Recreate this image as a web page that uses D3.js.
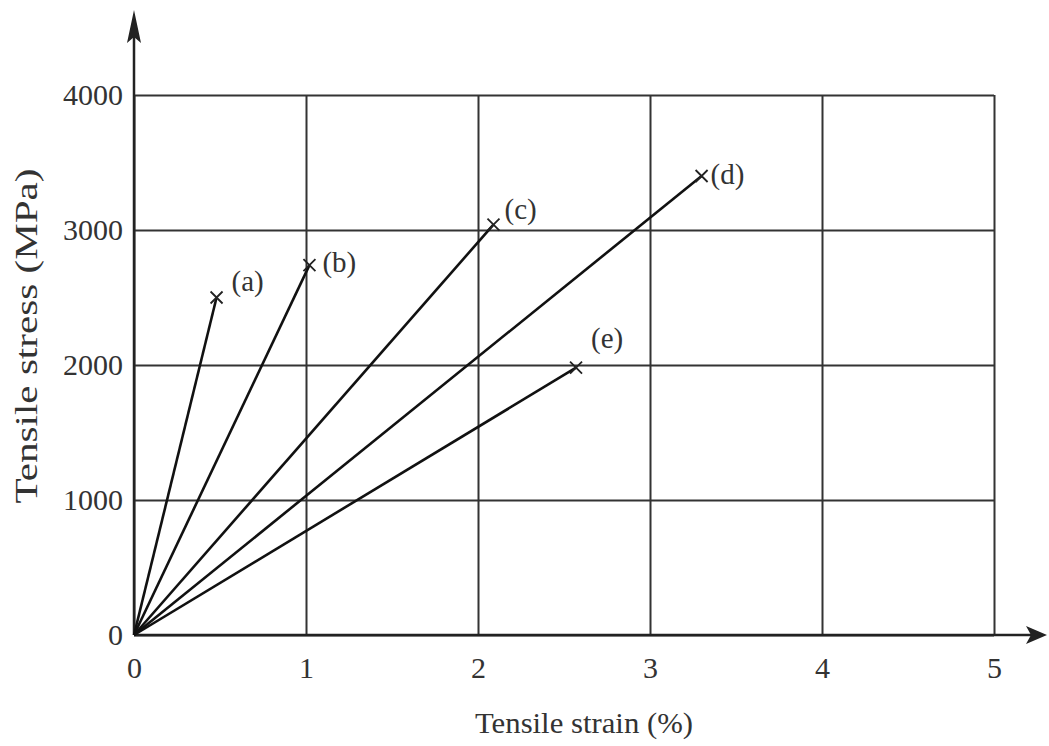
<!DOCTYPE html>
<html>
<head>
<meta charset="utf-8">
<script src="https://cdn.jsdelivr.net/npm/d3@7/dist/d3.min.js"></script>
<style>
  html, body { margin: 0; padding: 0; background: #fff; }
  svg { display: block; }
  text { font-family: "Liberation Serif", "DejaVu Serif", serif; fill: #333; }
</style>
</head>
<body>
<svg id="chart" width="1049" height="746"></svg>
<script>
// ---- data ----
const categories = ["(a)", "(b)", "(c)", "(d)", "(e)"];
const strainAtBreak = [0.48, 1.02, 2.09, 3.30, 2.57];   // %
const stressAtBreak = [2500, 2740, 3040, 3400, 1980];   // MPa
const xTicks = [0, 1, 2, 3, 4, 5];
const yTicks = [0, 1000, 2000, 3000, 4000];
const xTitle = "Tensile strain (%)";
const yTitle = "Tensile stress (MPa)";

// label placement (style, not data)
const labelOffsets = [[15, -7], [13, 7], [11, -6], [9, 8], [15, -20]];

const svg = d3.select("#chart");
const x = d3.scaleLinear().domain([0, 5]).range([134, 994]);
const y = d3.scaleLinear().domain([0, 4000]).range([635, 95]);

const gridColor = "#333";

// vertical grid + x tick labels
const gx = svg.append("g")
  .attr("transform", `translate(0,${y(0)})`)
  .call(d3.axisBottom(x).tickValues(xTicks).tickFormat(d3.format("d"))
    .tickSizeInner(-(y(0) - y(4000))).tickSizeOuter(0).tickPadding(22));
gx.select(".domain").remove();
gx.selectAll(".tick line").attr("stroke", gridColor).attr("stroke-width", 2);
gx.selectAll(".tick text").attr("font-size", 30).attr("fill", "#333")
  .attr("font-family", "Liberation Serif, serif");

// horizontal grid + y tick labels
const gy = svg.append("g")
  .attr("transform", `translate(${x(0)},0)`)
  .call(d3.axisLeft(y).tickValues(yTicks).tickFormat(d3.format("d"))
    .tickSizeInner(-(x(5) - x(0))).tickSizeOuter(0).tickPadding(11));
gy.select(".domain").remove();
gy.selectAll(".tick line").attr("stroke", gridColor).attr("stroke-width", 2);
gy.selectAll(".tick text").attr("font-size", 30).attr("fill", "#333")
  .attr("font-family", "Liberation Serif, serif");

// axes with arrows
svg.append("line").attr("x1", x(0)).attr("y1", y(0)).attr("x2", 1032).attr("y2", y(0))
  .attr("stroke", "#222").attr("stroke-width", 2.5);
svg.append("line").attr("x1", x(0)).attr("y1", y(0)).attr("x2", x(0)).attr("y2", 28)
  .attr("stroke", "#222").attr("stroke-width", 2.5);
// x arrow
{
  const tx = 1047, ty = y(0);
  svg.append("path")
    .attr("d", `M${tx},${ty} L${tx - 21},${ty - 9} L${tx - 16},${ty} L${tx - 21},${ty + 9} Z`)
    .attr("fill", "#222");
}
// y arrow
{
  const tx = x(0), ty = 10;
  svg.append("path")
    .attr("d", `M${tx},${ty} L${tx - 7},${ty + 33} L${tx},${ty + 27} L${tx + 7},${ty + 33} Z`)
    .attr("fill", "#222");
}

// data lines
const series = categories.map((c, i) => ({ name: c, sx: strainAtBreak[i], sy: stressAtBreak[i], off: labelOffsets[i] }));
const line = d3.line().x(d => x(d[0])).y(d => y(d[1]));
svg.append("g").selectAll("path").data(series).join("path")
  .attr("d", d => line([[0, 0], [d.sx, d.sy]]))
  .attr("fill", "none").attr("stroke", "#111").attr("stroke-width", 2.6);

// break markers (x)
const s = 6;
svg.append("g").selectAll("path").data(series).join("path")
  .attr("d", d => {
    const cx = x(d.sx), cy = y(d.sy);
    return `M${cx - s},${cy - s} L${cx + s},${cy + s} M${cx - s},${cy + s} L${cx + s},${cy - s}`;
  })
  .attr("stroke", "#222").attr("stroke-width", 1.8).attr("fill", "none");

// labels
svg.append("g").selectAll("text").data(series).join("text")
  .attr("x", d => x(d.sx) + d.off[0])
  .attr("y", d => y(d.sy) + d.off[1])
  .attr("font-size", 29)
  .text(d => d.name);

// axis titles
svg.append("text")
  .attr("x", 584).attr("y", 733)
  .attr("text-anchor", "middle")
  .attr("font-size", 30)
  .attr("textLength", 218).attr("lengthAdjust", "spacingAndGlyphs")
  .text(xTitle);

svg.append("text")
  .attr("transform", "translate(37,336) rotate(-90)")
  .attr("text-anchor", "middle")
  .attr("font-size", 32)
  .attr("textLength", 335).attr("lengthAdjust", "spacingAndGlyphs")
  .text(yTitle);
</script>
</body>
</html>
